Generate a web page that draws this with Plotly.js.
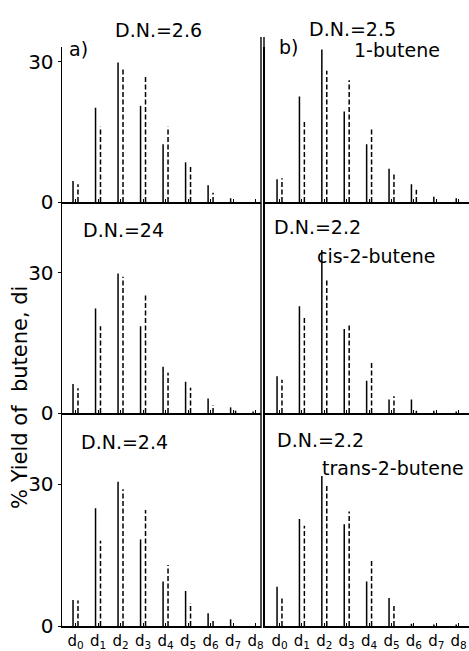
<!DOCTYPE html>
<html>
<head>
<meta charset="utf-8">
<script src="https://cdn.plot.ly/plotly-3.0.1.min.js"></script>
<style>html,body{margin:0;padding:0;background:#fff;}#chart{width:469px;height:651px;}</style>
</head>
<body>
<div id="chart"></div>
<script>
// d0 ... d8 categories
const tickLabels = ['d<sub>0</sub>','d<sub>1</sub>','d<sub>2</sub>','d<sub>3</sub>','d<sub>4</sub>','d<sub>5</sub>','d<sub>6</sub>','d<sub>7</sub>','d<sub>8</sub>'];
const positions = [0,1,2,3,4,5,6,7,8];

// a) D.N.=2.6 (row 1, left)
const aSolid  = [4.5, 20.2, 29.9, 20.6, 12.4, 8.5, 3.6, 0.8, 0.0];
const aDashed = [3.8, 16.1, 28.4, 27.2, 16.1, 7.6, 2.0, 0.0, 0.0];
// b) D.N.=2.5, 1-butene (row 1, right)
const bSolid  = [4.9, 22.6, 32.7, 19.4, 12.4, 7.1, 3.8, 1.1, 0.8];
const bDashed = [5.1, 17.6, 28.1, 26.1, 15.6, 6.3, 2.6, 0.0, 0.0];
// D.N.=24 (row 2, left)
const cSolid  = [6.2, 22.4, 29.9, 18.6, 9.9, 6.7, 3.1, 1.2, 0.3];
const cDashed = [5.3, 18.6, 29.2, 25.3, 8.6, 5.4, 1.7, 0.5, 0.0];
// D.N.=2.2, cis-2-butene (row 2, right)
const dSolid  = [7.9, 22.9, 34.9, 18.0, 6.9, 2.9, 2.9, 0.5, 0.3];
const dDashed = [7.1, 20.8, 28.5, 18.9, 10.8, 3.6, 0.5, 0.0, 0.0];
// D.N.=2.4 (row 3, left)
const eSolid  = [5.5, 24.9, 30.5, 18.3, 9.4, 7.4, 2.7, 1.4, 0.0];
const eDashed = [5.4, 18.0, 28.9, 24.5, 12.9, 4.8, 1.3, 0.0, 0.0];
// D.N.=2.2, trans-2-butene (row 3, right)
const fSolid  = [8.3, 22.6, 31.7, 21.5, 9.4, 5.9, 0.5, 0.3, 0.3];
const fDashed = [5.9, 21.2, 29.8, 24.2, 13.8, 4.2, 0.0, 0.0, 0.0];

const W = 469, H = 651;
const FONT = 'DejaVu Sans, Arial, sans-serif';
const px = v => v / W;
const py = v => 1 - v / H;

function sticks(vals, offset, dash, xa, ya) {
  const x = [], y = [];
  vals.forEach((v, i) => { x.push(positions[i] + offset, positions[i] + offset, null); y.push(0, v, null); });
  return {type: 'scatter', mode: 'lines', x: x, y: y, xaxis: xa, yaxis: ya,
    line: {color: '#000', width: 1.5, dash: dash}, hoverinfo: 'skip', showlegend: false};
}

const panels = [
  [aSolid, aDashed, 'x', 'y'],
  [bSolid, bDashed, 'x2', 'y2'],
  [cSolid, cDashed, 'x3', 'y3'],
  [dSolid, dDashed, 'x4', 'y4'],
  [eSolid, eDashed, 'x5', 'y5'],
  [fSolid, fDashed, 'x6', 'y6']
];
const data = [];
panels.forEach(p => {
  data.push(sticks(p[0], -0.11, 'solid', p[2], p[3]));
  data.push(sticks(p[1], 0.11, '5px,2.5px', p[2], p[3]));
});

const leftDom = [px(62), px(261)];
const rightDom = [px(264.5), 1];
const rows = [
  {dom: [py(202), py(47)], range: [0, 155/4.667]},
  {dom: [py(413), py(202.5)], range: [0, 210.5/4.667]},
  {dom: [py(626), py(413.5)], range: [0, 212.5/4.733]}
];

function xax(dom, range, anchor, showLabels) {
  return {domain: dom, range: range, anchor: anchor, showgrid: false, zeroline: false,
    showline: true, linecolor: '#000', linewidth: 1.6,
    tickmode: 'array', tickvals: positions, ticktext: tickLabels, showticklabels: showLabels,
    ticks: 'inside', ticklen: 3, tickcolor: '#000', tickwidth: 1,
    tickfont: {family: FONT, size: 15, color: '#000'}, fixedrange: true};
}
function yax(dom, range, anchor, showLabels) {
  return {domain: dom, range: range, anchor: anchor, showgrid: false, zeroline: false,
    showline: true, linecolor: '#000', linewidth: 1.4,
    tickmode: 'array', tickvals: [0, 30], ticktext: ['0', '30'], showticklabels: showLabels,
    ticks: showLabels ? 'outside' : '', ticklen: 3, tickcolor: '#000', tickwidth: 1,
    tickfont: {family: FONT, size: 20, color: '#000'}, fixedrange: true};
}

const leftRange = [-0.6, 8.24];
const rightRange = [-0.67, 8.46];

const layout = {
  width: W, height: H,
  margin: {l: 0, r: 0, t: 0, b: 0, pad: 0},
  paper_bgcolor: '#fff', plot_bgcolor: 'rgba(0,0,0,0)',
  showlegend: false,
  xaxis:  xax(leftDom, leftRange, 'y', false),
  yaxis:  yax(rows[0].dom, rows[0].range, 'x', true),
  xaxis2: xax(rightDom, rightRange, 'y2', false),
  yaxis2: yax(rows[0].dom, rows[0].range, 'x2', false),
  xaxis3: xax(leftDom, leftRange, 'y3', false),
  yaxis3: yax(rows[1].dom, rows[1].range, 'x3', true),
  xaxis4: xax(rightDom, rightRange, 'y4', false),
  yaxis4: yax(rows[1].dom, rows[1].range, 'x4', false),
  xaxis5: xax(leftDom, leftRange, 'y5', true),
  yaxis5: yax(rows[2].dom, rows[2].range, 'x5', true),
  xaxis6: xax(rightDom, rightRange, 'y6', true),
  yaxis6: yax(rows[2].dom, rows[2].range, 'x6', false),
  shapes: [
    {type: 'line', xref: 'paper', yref: 'paper', x0: px(261), x1: px(261), y0: py(37), y1: py(628),
     line: {color: '#000', width: 1.4}},
    {type: 'line', xref: 'paper', yref: 'paper', x0: px(264), x1: px(264), y0: py(37), y1: py(47),
     line: {color: '#000', width: 1.4}}
  ],
  annotations: []
};

const labels = [
  ['D.N.=2.6', 158, 30],
  ['a)', 78, 49],
  ['D.N.=2.5', 352, 29],
  ['b)', 288, 47],
  ['1-butene', 397, 50],
  ['D.N.=24', 123, 230],
  ['D.N.=2.2', 317, 227],
  ['cis-2-butene', 376, 256],
  ['D.N.=2.4', 124, 442],
  ['D.N.=2.2', 320, 440],
  ['trans-2-butene', 393, 468]
];
labels.forEach(l => layout.annotations.push({
  text: l[0], xref: 'paper', yref: 'paper', x: px(l[1]), y: py(l[2]),
  xanchor: 'center', yanchor: 'middle', showarrow: false,
  font: {family: FONT, size: 19, color: '#000'}
}));
layout.annotations.push({
  text: '% Yield of  butene, di', xref: 'paper', yref: 'paper', x: px(20), y: py(398),
  xanchor: 'center', yanchor: 'middle', showarrow: false, textangle: -90,
  font: {family: FONT, size: 21, color: '#000'}
});

Plotly.newPlot('chart', data, layout, {staticPlot: true, displayModeBar: false});
</script>
</body>
</html>
